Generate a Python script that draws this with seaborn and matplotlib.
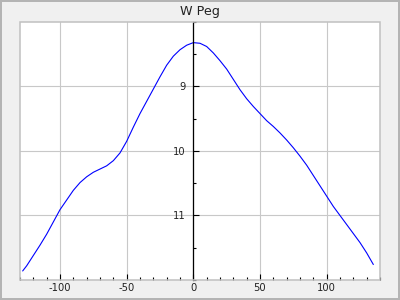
import matplotlib
matplotlib.use("Agg")
import matplotlib.pyplot as plt
from matplotlib.patches import Rectangle
from matplotlib.ticker import MultipleLocator
import seaborn as sns
import pandas as pd

title = "W Peg"
phase = [-128, -125, -120, -115, -110, -105, -100, -95, -90, -85, -80, -75,
         -70, -65, -60, -55, -50, -45, -40, -35, -30, -25, -20, -15, -10, -5,
         0, 5, 10, 15, 20, 25, 30, 35, 40, 45, 50, 55, 60, 65, 70, 75, 80,
         85, 90, 95, 100, 105, 110, 115, 120, 125, 130, 135]
mag = [11.86, 11.78, 11.62, 11.46, 11.29, 11.10, 10.91, 10.76, 10.61, 10.49,
       10.40, 10.33, 10.28, 10.23, 10.15, 10.03, 9.85, 9.63, 9.42, 9.23,
       9.04, 8.85, 8.67, 8.53, 8.43, 8.36, 8.32, 8.33, 8.38, 8.48, 8.60,
       8.73, 8.89, 9.05, 9.19, 9.31, 9.42, 9.53, 9.62, 9.72, 9.83, 9.95,
       10.08, 10.22, 10.38, 10.54, 10.70, 10.86, 11.00, 11.14, 11.28, 11.42,
       11.58, 11.76]
x_ticks = [-100, -50, 0, 50, 100]
y_ticks = [9, 10, 11]

df = pd.DataFrame({"phase": phase, "mag": mag})

sns.set_style("white")
plt.rcParams["font.family"] = ["DejaVu Sans"]
plt.rcParams["axes.unicode_minus"] = False

fig = plt.figure(figsize=(4, 3), dpi=100)
fig.patch.set_facecolor("#f0f0f0")
fig.patch.set_edgecolor("#b4b4b4")
fig.patch.set_linewidth(1.5)
ax = fig.add_axes([0.05, 0.0667, 0.90, 0.86])
ax.set_facecolor("white")

sns.lineplot(data=df, x="phase", y="mag", color="#0000ff", linewidth=0.8,
             ax=ax, sort=False)

ax.set_xlim(-130, 140)
ax.set_ylim(12, 8)
ax.set_xticks(x_ticks)
ax.set_yticks(y_ticks)
ax.xaxis.set_minor_locator(MultipleLocator(10))
ax.yaxis.set_minor_locator(MultipleLocator(0.5))
ax.set_xlabel("")
ax.set_ylabel("")
ax.set_title(title, fontsize=9.2, color="#222222", pad=5)

ax.grid(True, which="major", color="#c8c8c8", linewidth=0.8)
ax.set_axisbelow(True)

for s in ["top", "right", "bottom"]:
    ax.spines[s].set_visible(False)
ax.spines["left"].set_position(("data", 0))
ax.spines["left"].set_color("black")
ax.spines["left"].set_linewidth(0.9)
ax.spines["left"].set_zorder(3)

ax.add_patch(Rectangle((0, 0), 1, 1, transform=ax.transAxes, fill=False,
                       edgecolor="#c0c0c0", linewidth=1.1, clip_on=False,
                       zorder=4))

ax.tick_params(axis="x", which="major", direction="in", length=4.2, width=0.8,
               color="black", labelsize=7.2, labelcolor="#222222", pad=2.5,
               bottom=True)
ax.tick_params(axis="x", which="minor", direction="in", length=2.1, width=0.8,
               color="black", bottom=True)
ax.tick_params(axis="y", which="major", direction="in", length=4.2, width=0.8,
               color="black", labelsize=7.2, labelcolor="#222222", pad=5.5,
               left=True)
ax.tick_params(axis="y", which="minor", direction="in", length=2.1, width=0.8,
               color="black", left=True)

fig.savefig("out.png", dpi=100, facecolor=fig.get_facecolor(),
            edgecolor=fig.get_edgecolor())
